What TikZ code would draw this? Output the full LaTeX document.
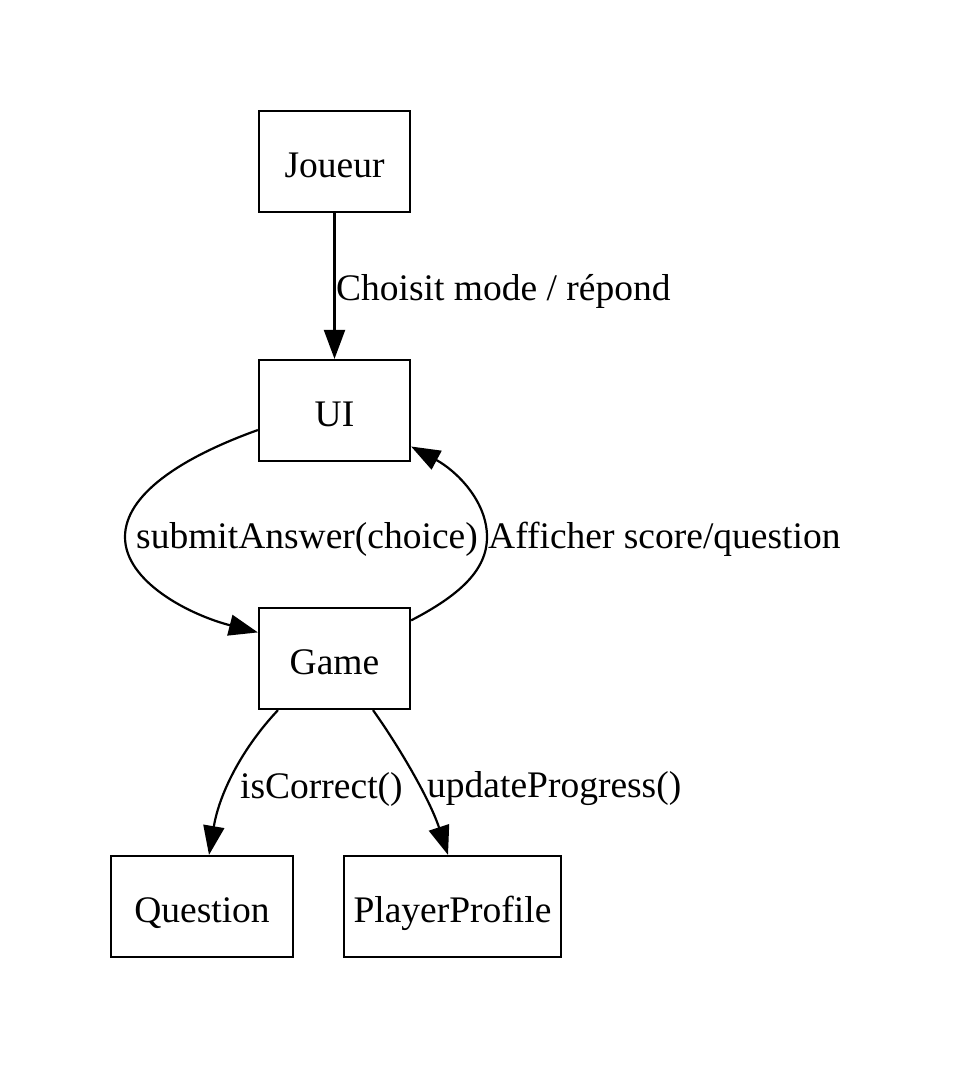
\documentclass[tikz,border=0pt]{standalone}
\usepackage{fontspec}
\setmainfont{Liberation Serif}
\usetikzlibrary{arrows.meta}
\begin{document}
\begin{tikzpicture}[x=1pt,y=-1pt,
  box/.style={draw,line width=2.2pt,minimum width=151pt,minimum height=101pt,inner sep=0pt,text height=31pt,text depth=0pt,font=\fontsize{37.5}{45}\selectfont},
  lbl/.style={inner sep=0pt,font=\fontsize{37.5}{45}\selectfont},
  edge/.style={line width=2.2pt,-{Triangle[length=29pt,width=21pt]}}]
\useasboundingbox (0,0) rectangle (956,1071);
\node[box] (joueur) at (334.5,161.5) {Joueur};
\node[box] (ui) at (334.5,410.5) {UI};
\node[box] (game) at (334.5,658.5) {Game};
\node[box,minimum width=182pt] (question) at (202,906.5) {Question};
\node[box,minimum width=217pt] (profile) at (452.5,906.5) {PlayerProfile};
\draw[edge] (joueur) -- (ui);
\node[lbl,anchor=west] (l1) at (336,291) {Choisit mode / répond};
\draw[edge] ([yshift=-19.5pt]ui.west) .. controls (180,458) and (125,495) .. (125,537)
  .. controls (125,582) and (190,615) .. ([yshift=-25.5pt]game.north west);
\draw[edge] ([yshift=-13.5pt]game.north east) .. controls (460,595) and (487,570) .. (487,537)
  .. controls (487,500) and (455,470) .. ([yshift=-36pt]ui.east);
\node[lbl] (l2) at (307,539) {submitAnswer(choice)};
\node[lbl,anchor=west] (l3) at (488,539) {Afficher score/question};
\draw[edge] ([xshift=-56.5pt]game.south) .. controls (245,745) and (220,790) .. ([xshift=7pt]question.north);
\draw[edge] ([xshift=38.5pt]game.south) .. controls (400,748) and (430,800) .. ([xshift=-4.5pt]profile.north);
\node[lbl,anchor=west] (l4) at (240,789) {isCorrect()};
\node[lbl,anchor=west] (l5) at (427,789) {updateProgress()};
\end{tikzpicture}
\end{document}
